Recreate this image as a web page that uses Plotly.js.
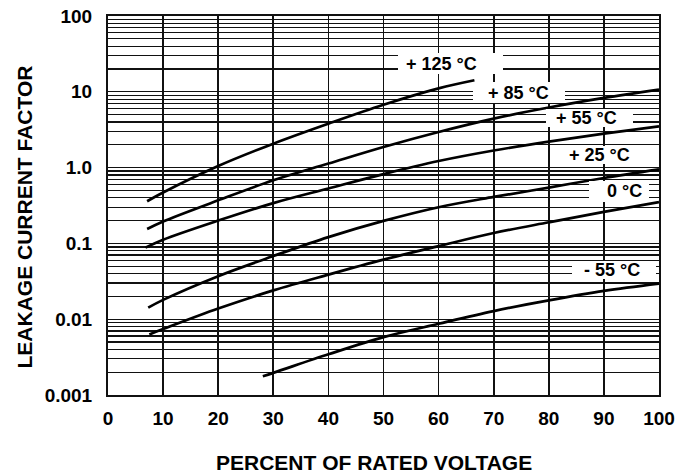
<!DOCTYPE html>
<html>
<head>
<meta charset="utf-8">
<script src="https://cdn.plot.ly/plotly-3.0.1.min.js"></script>
<style>html,body{margin:0;padding:0;background:#fff;}#chart{width:675px;height:474px;}</style>
</head>
<body>
<div id="chart"></div>
<script>
// ---- data ----
var seriesNames = ['+ 125 °C', '+ 85 °C', '+ 55 °C', '+ 25 °C', '0 °C', '- 55 °C'];
var x125 = [7.1, 10, 20, 30, 40, 50, 60, 66.5];
var y125 = [0.36, 0.47, 1.05, 2.07, 3.8, 6.75, 11.1, 14.2];
var x85 = [7.1, 10, 20, 30, 40, 50, 60, 70, 80, 90, 100];
var y85 = [0.155, 0.195, 0.37, 0.68, 1.13, 1.87, 2.95, 4.43, 6.2, 8.3, 10.7];
var x55 = [6.8, 10, 20, 30, 40, 50, 60, 70, 80, 90, 100];
var y55 = [0.088, 0.112, 0.2, 0.34, 0.53, 0.82, 1.22, 1.68, 2.2, 2.8, 3.5];
var x25 = [7.3, 10, 20, 30, 40, 50, 60, 70, 80, 90, 100];
var y25 = [0.0142, 0.018, 0.037, 0.068, 0.121, 0.198, 0.30, 0.41, 0.545, 0.73, 0.95];
var x0 = [7.5, 10, 20, 30, 40, 50, 60, 70, 80, 90, 100];
var y0 = [0.0063, 0.0074, 0.0138, 0.024, 0.0387, 0.061, 0.092, 0.137, 0.19, 0.26, 0.35];
var xm55 = [28.1, 30, 40, 50, 60, 70, 80, 90, 100];
var ym55 = [0.00177, 0.00196, 0.00344, 0.0058, 0.0087, 0.0128, 0.0177, 0.0236, 0.0295];

var xTickVals = [0, 10, 20, 30, 40, 50, 60, 70, 80, 90, 100];
var xTickText = ['0', '10', '20', '30', '40', '50', '60', '70', '80', '90', '100'];
var yDecades = [0.001, 0.01, 0.1, 1, 10, 100];
var yDecadeText = ['0.001', '0.01', '0.1', '1.0', '10', '100'];
var xTitle = 'PERCENT OF RATED VOLTAGE';
var yTitle = 'LEAKAGE CURRENT FACTOR';

// log grid: every 1..9 of each decade, label only at decades
var yTickVals = [], yTickText = [];
for (var d = 0; d < yDecades.length; d++) {
  var steps = (d === yDecades.length - 1) ? 1 : 9;
  for (var k = 1; k <= steps; k++) {
    yTickVals.push(yDecades[d] * k);
    yTickText.push(k === 1 ? yDecadeText[d] : '');
  }
}

var xs = [x125, x85, x55, x25, x0, xm55];
var ys = [y125, y85, y55, y25, y0, ym55];
var traces = xs.map(function (xv, i) {
  return {
    x: xv, y: ys[i], name: seriesNames[i], type: 'scatter', mode: 'lines',
    line: {color: '#000', width: 2.7, shape: 'spline', smoothing: 1},
    hoverinfo: 'skip'
  };
});

var FAM = 'Liberation Sans, Arial, Helvetica, sans-serif';
var fontB = {family: FAM, size: 19, color: '#000', weight: 'bold'};

// plot area geometry (pixels) used only for label placement
var L = 108, R = 659, T = 16, B = 395;
function px(p) { return (p - L) / (R - L); }
function py(p) { return 1 - (p - T) / (B - T); }
// label boxes: [left, right, top, bottom] in pixels
var boxes = [
  [398, 503, 53, 74],
  [473, 565, 82, 103],
  [546, 633, 109, 127],
  [555, 651, 146, 164],
  [589, 649, 181, 202],
  [572, 656, 261, 279]
];
var textLeft = [405, 487, 555, 568, 606, 583];
var shapes = boxes.map(function (b) {
  return {type: 'rect', xref: 'paper', yref: 'paper', x0: px(b[0]), x1: px(b[1]),
    y0: py(b[3]), y1: py(b[2]), fillcolor: '#fff', line: {width: 0}, layer: 'above'};
});
var annotations = boxes.map(function (b, i) {
  return {
    xref: 'paper', yref: 'paper',
    x: px(textLeft[i]), y: py((b[2] + b[3]) / 2), xanchor: 'left', yanchor: 'middle',
    text: seriesNames[i], showarrow: false, borderpad: 0,
    font: {family: FAM, size: 18, color: '#000', weight: 'bold'}
  };
});
// axis titles (placed as in the reference)
annotations.push({xref: 'paper', yref: 'paper', x: px(374), y: py(462), xanchor: 'center', yanchor: 'middle',
  text: xTitle, showarrow: false, borderpad: 0, font: {family: FAM, size: 21, color: '#000', weight: 'bold'}});
annotations.push({xref: 'paper', yref: 'paper', x: px(23.5), y: py(217), xanchor: 'center', yanchor: 'middle',
  text: yTitle, showarrow: false, borderpad: 0, textangle: -90, font: {family: FAM, size: 21, color: '#000', weight: 'bold'}});

var layout = {
  width: 675, height: 474,
  margin: {l: L, r: 675 - R, t: T, b: 474 - B, pad: 0},
  paper_bgcolor: '#fff', plot_bgcolor: '#fff',
  showlegend: false,
  xaxis: {
    range: [0, 100], tickvals: xTickVals, ticktext: xTickText,
    showgrid: true, gridcolor: '#111', gridwidth: 1.6,
    zeroline: false, showline: true, linecolor: '#111', linewidth: 2, mirror: true,
    ticks: 'outside', ticklen: 5, tickcolor: 'rgba(0,0,0,0)',
    tickfont: fontB
  },
  yaxis: {
    type: 'log', range: [-3, 2], tickvals: yTickVals, ticktext: yTickText,
    showgrid: true, gridcolor: '#111', gridwidth: 1.3,
    zeroline: false, showline: true, linecolor: '#111', linewidth: 2, mirror: true,
    ticks: 'outside', ticklen: 10, tickcolor: 'rgba(0,0,0,0)',
    tickfont: fontB
  },
  shapes: shapes,
  annotations: annotations
};

Plotly.newPlot('chart', traces, layout, {displayModeBar: false, staticPlot: true});
</script>
</body>
</html>
